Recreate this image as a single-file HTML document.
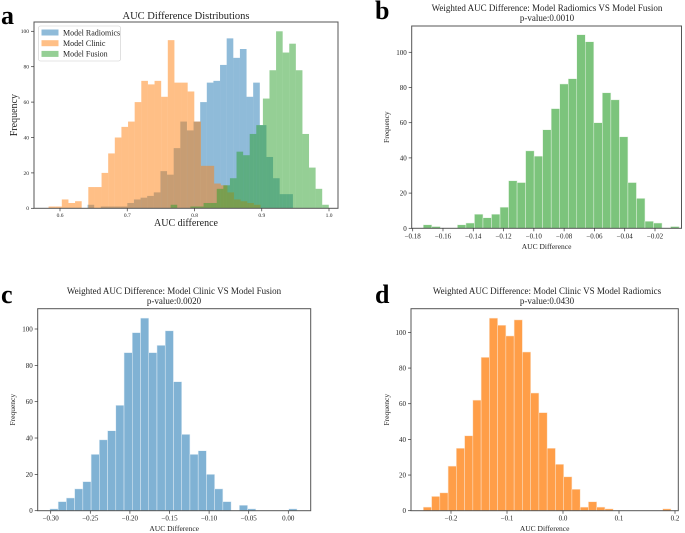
<!DOCTYPE html>
<html><head><meta charset="utf-8">
<style>
html,body{margin:0;padding:0;background:#fff;}
svg{display:block;font-family:"Liberation Serif","DejaVu Serif",serif;}
</style></head>
<body>
<svg id="fig" width="685" height="533" viewBox="0 0 685 533" xmlns="http://www.w3.org/2000/svg">
<rect width="685" height="533" fill="#fff"/>
<text x="1" y="24" font-size="26" font-weight="bold">a</text>
<text x="375" y="19" font-size="26" font-weight="bold">b</text>
<text x="1" y="303" font-size="26" font-weight="bold">c</text>
<text x="375" y="303" font-size="26" font-weight="bold">d</text>
<g id="plots"></g>
</svg>
<script>
// Panel a data
const aRadStart = 0.641, aRadWidth = 0.00985;
const aRadCounts = [2,0,1,1,1,1,3,5,6,7,9,21,19,34,49,44,49,60,71,72,81,96,85,90,63,71,47,29,17,8,8];
const aCliStart = 0.583, aCliWidth = 0.00985;
const aCliCounts = [1,1,5,3,4,0,12,12,20,31,40,46,49,60,72,70,72,63,95,71,71,66,49,24,24,14,13,9,5,4,3,2];
const aFusStart = 0.7645, aFusWidth = 0.0098;
const aFusCounts = [2,0,0,1,1,3,3,11,13,17,32,30,42,47,62,78,100,88,93,78,42,23,11,2];
const aXTicks = [0.6,0.7,0.8,0.9,1.0];
const aXTickLabels = ["0.6","0.7","0.8","0.9","1.0"];
const aYTicks = [0,20,40,60,80,100];
// Panel b data
const bStart = -0.1730, bWidth = 0.00563;
const bCounts = [2,1,0,0,2,3,8,6,8,12,27,26,44,41,56,68,82,85,110,106,60,77,73,52,26,17,4,3,0,1];
const bXTicks = [-0.18,-0.16,-0.14,-0.12,-0.10,-0.08,-0.06,-0.04,-0.02];
const bXTickLabels = ["\u22120.18","\u22120.16","\u22120.14","\u22120.12","\u22120.10","\u22120.08","\u22120.06","\u22120.04","\u22120.02"];
const bYTicks = [0,20,40,60,80,100];
// Panel c data
const cStart = -0.301, cWidth = 0.0104;
const cCounts = [1,5,7,12,16,31,39,44,58,87,98,106,87,91,99,71,42,31,33,20,12,5,0,3,1,0,0,0,0,1];
const cXTicks = [-0.30,-0.25,-0.20,-0.15,-0.10,-0.05,0.00];
const cXTickLabels = ["\u22120.30","\u22120.25","\u22120.20","\u22120.15","\u22120.10","\u22120.05","0.00"];
const cYTicks = [0,20,40,60,80,100];
// Panel d data
const dStart = -0.2494, dWidth = 0.01474;
const dCounts = [2,8,10,25,35,42,62,86,108,104,98,107,89,66,55,35,26,19,12,2,5,2,1,0,0,0,0,0,0,1];
const dXTicks = [-0.2,-0.1,0.0,0.1,0.2];
const dXTickLabels = ["\u22120.2","\u22120.1","0.0","0.1","0.2"];
const dYTicks = [0,20,40,60,80,100];

const NS = "http://www.w3.org/2000/svg";
const root = document.getElementById('plots');
function mk(tag, attrs, parent){
  const e = document.createElementNS(NS, tag);
  for (const k in attrs) e.setAttribute(k, attrs[k]);
  (parent||root).appendChild(e);
  return e;
}
function panel(p){
  const g = mk('g', {});
  
  
  const sx = v => p.x0 + (v - p.v0) / (p.v1 - p.v0) * (p.x1 - p.x0);
  const sy = c => p.yZero - c * p.yPer;
  p.series.forEach(s => {
    const sg = mk('g', {}, g);
    
    
    s.counts.forEach((c, i) => {
      if (c <= 0) return;
      const xa = sx(s.start + i * s.width), xb = sx(s.start + (i + 1) * s.width);
      const r = mk('rect', {x: xa, y: sy(c), width: xb - xa, height: sy(0) - sy(c), fill: s.color, 'fill-opacity': s.alpha, stroke: s.edge || 'none', 'stroke-width': 0.5}, sg);
      
      
    });
  });
  const frame = mk('rect', {x: p.bx0, y: p.by0, width: p.bx1 - p.bx0, height: p.by1 - p.by0, fill: 'none', stroke: '#555', 'stroke-width': 1}, g);
  
  
  p.xticks.forEach((v, i) => {
    const x = sx(v);
    mk('line', {x1: x, x2: x, y1: p.by1, y2: p.by1 + 3, stroke: '#333', 'stroke-width': 0.7}, g);
    const t = mk('text', {x: x, y: p.by1 + 3 + p.tfs, 'font-size': p.tfs, 'text-anchor': 'middle', fill: '#222'}, g);
    t.textContent = p.xlabels[i];
    
    
  });
  p.yticks.forEach(v => {
    const y = sy(v);
    mk('line', {x1: p.bx0 - 3, x2: p.bx0, y1: y, y2: y, stroke: '#333', 'stroke-width': 0.7}, g);
    const t = mk('text', {x: p.bx0 - 5, y: y + p.tfs * 0.35, 'font-size': p.tfs, 'text-anchor': 'end', fill: '#222'}, g);
    t.textContent = String(v);
    
    
  });
  const xl = mk('text', {x: (p.bx0 + p.bx1) / 2, y: p.xlY, 'font-size': p.lfs, 'text-anchor': 'middle', fill: '#222'}, g);
  xl.textContent = p.xlabel;
  
  
  const yl = mk('text', {x: 0, y: 0, 'font-size': p.lfs, 'text-anchor': 'middle', fill: '#222', transform: 'translate(' + p.ylX + ',' + ((p.by0 + p.by1) / 2) + ') rotate(-90)'}, g);
  yl.textContent = 'Frequency';
  
  
  p.titles.forEach((tt, i) => {
    const t = mk('text', {x: p.tX, y: p.tY + i * p.tfs2 * 1.1, 'font-size': p.tfs2, 'text-anchor': 'middle', fill: '#222'}, g);
    t.textContent = tt;
    
    
  });
  return g;
}

const ga = panel({name: 'panel-a-auc-distributions', x0: 60, x1: 329, v0: 0.6, v1: 1.0, yZero: 208.3, yPer: 1.77,
  bx0: 34, bx1: 338, by0: 22, by1: 208.3, xticks: aXTicks, xlabels: aXTickLabels, yticks: aYTicks, tfs: 5.5, lfs: 10,
  xlabel: 'AUC difference', xlY: 226, ylX: 17, titles: ['AUC Difference Distributions'], tX: 186, tY: 19, tfs2: 10.5,
  series: [
    {name: 'series-model-radiomics', start: aRadStart, width: aRadWidth, counts: aRadCounts, color: '#1f77b4', alpha: 0.5},
    {name: 'series-model-clinic', start: aCliStart, width: aCliWidth, counts: aCliCounts, color: '#ff7f0e', alpha: 0.5},
    {name: 'series-model-fusion', start: aFusStart, width: aFusWidth, counts: aFusCounts, color: '#2ca02c', alpha: 0.5}
  ]});
// legend a
const lg = mk('g', {}, ga);


mk('rect', {x: 38.5, y: 26, width: 82, height: 35, rx: 2, fill: '#fff', 'fill-opacity': 0.85, stroke: '#ccc', 'stroke-width': 0.6}, lg);
[['Model Radiomics', '#1f77b4'], ['Model Clinic', '#ff7f0e'], ['Model Fusion', '#2ca02c']].forEach((e, i) => {
  const y = 32.5 + i * 10.7;
  const sw = mk('rect', {x: 41.5, y: y - 3, width: 17, height: 6, fill: e[1], 'fill-opacity': 0.5}, lg);
  
  
  const t = mk('text', {x: 63, y: y + 2.8, 'font-size': 8, fill: '#222'}, lg);
  t.textContent = e[0];
  
  
});

panel({name: 'panel-b-radiomics-vs-fusion', x0: 412.7, x1: 655, v0: -0.18, v1: -0.02, yZero: 228.3, yPer: 1.76,
  bx0: 411.7, bx1: 681.5, by0: 26, by1: 228.3, xticks: bXTicks, xlabels: bXTickLabels, yticks: bYTicks, tfs: 7, lfs: 7.5,
  xlabel: 'AUC Difference', xlY: 249, ylX: 389, titles: ['Weighted AUC Difference: Model Radiomics VS Model Fusion', 'p-value:0.0010'], tX: 547, tY: 11, tfs2: 9,
  series: [{name: 'series-difference', start: bStart, width: bWidth, counts: bCounts, color: '#2ca02c', alpha: 0.62, edge: '#e8f4e6'}]});

panel({name: 'panel-c-clinic-vs-fusion', x0: 50.7, x1: 288.3, v0: -0.30, v1: 0.0, yZero: 510.7, yPer: 1.817,
  bx0: 37.7, bx1: 310.7, by0: 308.7, by1: 510.7, xticks: cXTicks, xlabels: cXTickLabels, yticks: cYTicks, tfs: 7, lfs: 7.5,
  xlabel: 'AUC Difference', xlY: 531, ylX: 15, titles: ['Weighted AUC Difference: Model Clinic VS Model Fusion', 'p-value:0.0020'], tX: 174, tY: 294, tfs2: 9,
  series: [{name: 'series-difference', start: cStart, width: cWidth, counts: cCounts, color: '#1f77b4', alpha: 0.57, edge: '#e6f0f7'}]});

panel({name: 'panel-d-clinic-vs-radiomics', x0: 451, x1: 675, v0: -0.2, v1: 0.2, yZero: 510.7, yPer: 1.783,
  bx0: 411, bx1: 678.3, by0: 308.7, by1: 510.7, xticks: dXTicks, xlabels: dXTickLabels, yticks: dYTicks, tfs: 7, lfs: 7.5,
  xlabel: 'AUC Difference', xlY: 531, ylX: 389, titles: ['Weighted AUC Difference: Model Clinic VS Model Radiomics', 'p-value:0.0430'], tX: 547, tY: 294, tfs2: 9,
  series: [{name: 'series-difference', start: dStart, width: dWidth, counts: dCounts, color: '#ff7f0e', alpha: 0.76, edge: '#fbe6d2'}]});
</script>
</body></html>
